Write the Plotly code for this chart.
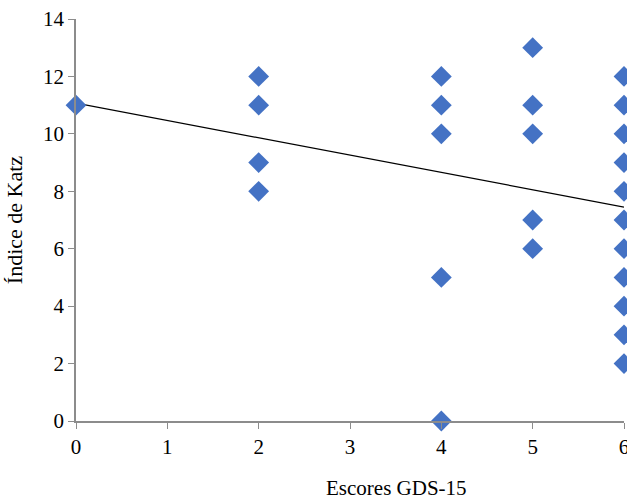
import plotly.graph_objects as go

gds_scores = [0, 2, 2, 2, 2, 4, 4, 4, 4, 4, 5, 5, 5, 5, 5,
              6, 6, 6, 6, 6, 6, 6, 6, 6, 6, 6]
katz_index = [11, 12, 11, 9, 8, 12, 11, 10, 5, 0, 13, 11, 10, 7, 6,
              12, 11, 10, 9, 8, 7, 6, 5, 4, 3, 2]
trend_x = [0, 6]
trend_y = [11.07, 7.45]

fig = go.Figure()
fig.add_trace(go.Scatter(
    x=trend_x, y=trend_y, mode="lines",
    line=dict(color="black", width=1.2),
    showlegend=False))
fig.add_trace(go.Scatter(
    x=gds_scores, y=katz_index, mode="markers", cliponaxis=False,
    marker=dict(symbol="diamond", size=16, color="#4472C4"),
    showlegend=False))

font_family = "Liberation Serif, Times New Roman, serif"
fig.update_layout(
    width=627, height=499,
    margin=dict(l=76, r=3, t=19, b=78),
    plot_bgcolor="white", paper_bgcolor="white",
    font=dict(family=font_family, size=21, color="black"),
    xaxis=dict(range=[0, 6], dtick=1, showgrid=False, zeroline=False,
               showline=True, linecolor="#8c8c8c", linewidth=1.5,
               ticks="outside", ticklen=6, tickcolor="#8c8c8c",
               automargin=False, ticklabeloverflow="allow",
               tickfont=dict(size=21, family=font_family)),
    yaxis=dict(range=[0, 14], dtick=2, showgrid=False, zeroline=False,
               showline=True, linecolor="#8c8c8c", linewidth=1.5,
               ticks="outside", ticklen=6, tickcolor="#8c8c8c",
               automargin=False, ticklabeloverflow="allow",
               tickfont=dict(size=21, family=font_family),
               title=dict(text="Índice de Katz", font=dict(size=22, family=font_family), standoff=14)),
    annotations=[dict(text="Escores GDS-15", xref="paper", yref="paper",
                      x=0.584, y=0, yshift=-67, xanchor="center", yanchor="middle",
                      showarrow=False, font=dict(size=21, family=font_family))],
)
fig.write_html("out.html", config={"displayModeBar": False},
               post_script="document.body.style.margin='0';document.body.style.overflow='hidden';")
